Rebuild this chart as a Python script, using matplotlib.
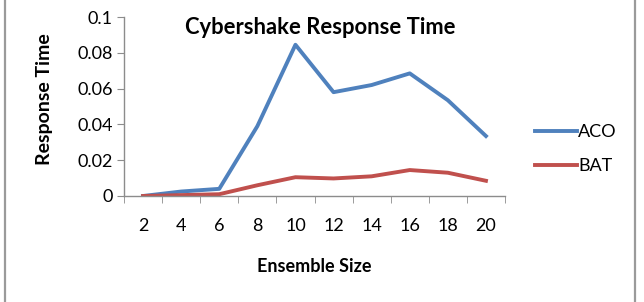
import numpy as np
import matplotlib
matplotlib.use("Agg")
import matplotlib.pyplot as plt
from matplotlib.lines import Line2D

plt.rcParams["font.family"] = ["Lato", "DejaVu Sans"]

# data
ensemble_size = ["2", "4", "6", "8", "10", "12", "14", "16", "18", "20"]
aco = [0.0, 0.0025, 0.004, 0.039, 0.0845, 0.058, 0.062, 0.0685, 0.0535, 0.0335]
bat = [0.0, 0.0005, 0.001, 0.006, 0.0105, 0.0098, 0.011, 0.0145, 0.013, 0.0085]

W, H = 644, 302
fig = plt.figure(figsize=(W / 100, H / 100), dpi=100)
ax = fig.add_axes([124 / W, 1 - 196 / H, 381 / W, 179 / H])

x = np.arange(len(ensemble_size))
ax.plot(x, aco, color="#4F81BD", linewidth=2.8, label="ACO")
ax.plot(x, bat, color="#C0504D", linewidth=2.8, label="BAT")

ax.set_xlim(-0.5, len(x) - 0.5)
ax.set_ylim(0, 0.1)
ax.set_yticks([0, 0.02, 0.04, 0.06, 0.08, 0.1])
ax.set_yticklabels(["0", "0.02", "0.04", "0.06", "0.08", "0.1"])
ax.set_xticks(x)
ax.set_xticklabels(ensemble_size)
ax.set_xticks(np.arange(-0.5, len(x)), minor=True)

for s in ["top", "right"]:
    ax.spines[s].set_visible(False)
for s in ["left", "bottom"]:
    ax.spines[s].set_color("#8c8c8c")
    ax.spines[s].set_linewidth(1.0)

ax.tick_params(axis="y", which="major", length=5, color="#8c8c8c", labelsize=13, pad=3)
ax.tick_params(axis="x", which="major", length=0, labelsize=13, pad=16)
ax.tick_params(axis="x", which="minor", length=5, color="#8c8c8c")

fig.text(320 / W, 1 - 27 / H, "Cybershake Response Time", ha="center", va="center",
         fontsize=15.8, fontweight="bold")
fig.text(45 / W, 1 - 99 / H, "Response Time", ha="center", va="center",
         rotation=90, fontsize=14, fontweight="bold")
fig.text(314 / W, 1 - 266 / H, "Ensemble Size", ha="center", va="center",
         fontsize=13, fontweight="bold")

fig.legend(loc="center left", bbox_to_anchor=(535 / W, 1 - 149 / H), frameon=False,
           fontsize=13, handlelength=2.3, handletextpad=0.1, labelspacing=1.0,
           borderaxespad=0, borderpad=0)

# grey frame lines at the left and right edges
fig.add_artist(Line2D([5 / W, 5 / W], [0, 1], color="#9a9a9a", linewidth=1.6,
                      transform=fig.transFigure))
fig.add_artist(Line2D([635 / W, 635 / W], [0, 1], color="#9a9a9a", linewidth=1.6,
                      transform=fig.transFigure))

fig.savefig("out.png", dpi=100)
